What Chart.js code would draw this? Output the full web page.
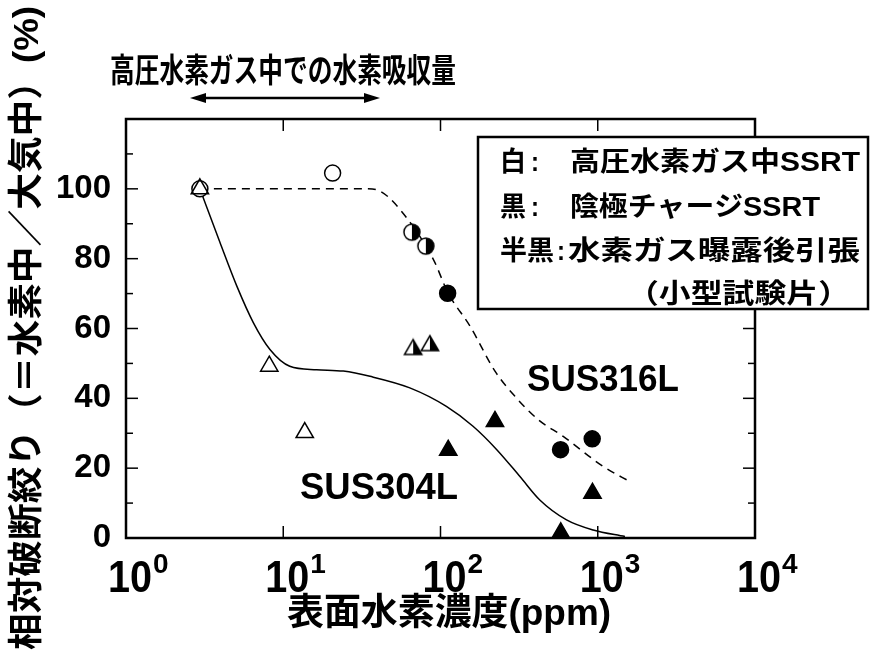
<!DOCTYPE html>
<html>
<head>
<meta charset="utf-8">
<script src="https://cdn.jsdelivr.net/npm/chart.js@4/dist/chart.umd.min.js"></script>
<style>
  html, body { margin: 0; padding: 0; background: #fff; }
  canvas { display: block; }
</style>
</head>
<body>
<canvas id="c" width="877" height="653"></canvas>
<script>
// Relative reduction of area vs. surface hydrogen concentration (SUS316L / SUS304L)

// axis ticks
const yTickValues = [0, 20, 40, 60, 80, 100];
const xDecades = [1, 10, 100, 1000, 10000];
const xExponents = ['0', '1', '2', '3', '4'];

// SUS316L trend curve (dashed)
const sus316Conc  = [2.95, 34, 41, 55, 90, 112, 154, 222, 297, 418, 603, 1082, 1640];
const sus316Ratio = [100, 100, 99.4, 94.2, 79.8, 70.1, 60.7, 47.8, 40.6, 33.9, 29.1, 20.5, 15.9];

// SUS304L trend curve (solid)
const sus304Conc  = [2.95, 3.96, 5.06, 6.45, 8.23, 11.0, 16.3, 24.1, 35.6, 63.8, 109, 161, 228, 320, 428, 633, 935, 1490];
const sus304Ratio = [100, 84.6, 72.2, 61.7, 54.0, 49.2, 48.2, 47.8, 46.3, 43.0, 37.7, 32.0, 25.3, 17.6, 10.9, 5.2, 2.3, 0.4];

// white: SSRT in high-pressure hydrogen gas
const openTriConc   = [2.95, 8.15, 13.7];
const openTriRatio  = [100, 49.2, 30.2];
const openCircConc  = [2.95, 20.6];
const openCircRatio = [100, 104.5];

// half black: tensile test after hydrogen gas exposure
const halfCircConc  = [65.8, 80.7];
const halfCircRatio = [87.6, 83.6];
const halfTriConc   = [67, 85.6];
const halfTriRatio  = [54, 55.1];

// black: cathodic charging SSRT
const fullCircConc  = [111, 580, 922];
const fullCircRatio = [70.1, 25.3, 28.4];
const fullTriConc   = [112, 222, 582, 926];
const fullTriRatio  = [25.1, 33.4, 1.5, 12.8];

const LATIN = '"Liberation Sans", Arial, sans-serif';
const MIXED = '"Liberation Sans", "Noto Sans CJK JP", sans-serif';

function pts(xs, ys) { return xs.map((v, i) => ({ x: v, y: ys[i] })); }

// marker with left half white and right half black
function halfMarker(shape, r) {
  const w = Math.ceil(2 * r + 4);
  const c = document.createElement('canvas');
  c.width = w; c.height = w;
  const g = c.getContext('2d');
  const cx = w / 2, cy = w / 2;
  g.beginPath();
  if (shape === 'circle') {
    g.arc(cx, cy, r, 0, Math.PI * 2);
  } else {
    const h = r * Math.sqrt(3) / 2;
    g.moveTo(cx, cy - r);
    g.lineTo(cx + h, cy + r / 2);
    g.lineTo(cx - h, cy + r / 2);
    g.closePath();
  }
  g.fillStyle = '#fff';
  g.fill();
  g.save();
  g.clip();
  g.fillStyle = '#000';
  g.fillRect(cx, 0, w, w);
  g.restore();
  g.lineWidth = 1.5;
  g.strokeStyle = '#000';
  g.stroke();
  return c;
}

// draws text stretched horizontally to a given width
function fitText(ctx, text, x, y, width, font, align) {
  ctx.font = font;
  const w = ctx.measureText(text).width;
  const sx = width / w;
  ctx.save();
  ctx.translate(x, y);
  ctx.scale(sx, 1);
  ctx.textAlign = 'left';
  ctx.fillText(text, align === 'center' ? -w / 2 : 0, 0);
  ctx.restore();
}

function seg(ctx, x1, y1, x2, y2) {
  ctx.beginPath(); ctx.moveTo(x1, y1); ctx.lineTo(x2, y2); ctx.stroke();
}

const decor = {
  id: 'decor',
  afterDraw(chart) {
    const { ctx, chartArea: a, scales: { x, y } } = chart;
    ctx.save();
    ctx.strokeStyle = '#000';
    ctx.fillStyle = '#000';

    // inward tick marks on all four sides
    ctx.lineWidth = 1.5;
    for (let v = 10; v < 120; v += 10) {
      const py = y.getPixelForValue(v);
      const len = v % 20 === 0 ? 12 : 7;
      seg(ctx, a.left, py, a.left + len, py);
      seg(ctx, a.right, py, a.right - len, py);
    }
    xDecades.slice(1, -1).forEach(v => {
      const px = x.getPixelForValue(v);
      seg(ctx, px, a.bottom, px, a.bottom - 12);
      seg(ctx, px, a.top, px, a.top + 12);
    });

    // frame
    ctx.lineWidth = 2.5;
    ctx.strokeRect(a.left, a.top, a.right - a.left, a.bottom - a.top);

    // x tick labels 10^n
    ctx.textBaseline = 'alphabetic';
    xDecades.forEach((v, i) => {
      const px = x.getPixelForValue(v);
      const baseW = 44;
      fitText(ctx, '10', px + 4 - baseW / 2, 592, baseW, 'bold 44px ' + LATIN);
      ctx.font = 'bold 28px ' + LATIN;
      ctx.textAlign = 'left';
      ctx.fillText(xExponents[i], px + 4 + baseW / 2 + 1, 573);
    });

    // axis titles
    ctx.textBaseline = 'middle';
    fitText(ctx, '表面水素濃度(ppm)', 449, 615, 324, 'bold 37px ' + MIXED, 'center');
    ctx.save();
    ctx.translate(28, 328);
    ctx.rotate(-Math.PI / 2);
    fitText(ctx, '相対破断絞り（＝水素中／大気中）(%)', 0, 0, 644, 'bold 35px ' + MIXED, 'center');
    ctx.restore();

    // range of hydrogen uptake in high-pressure gas
    fitText(ctx, '高圧水素ガス中での水素吸収量', 110, 73, 346, 'bold 33px ' + MIXED);
    const ay = 98, ax1 = 190, ax2 = 380, hl = 16, hw = 5;
    ctx.lineWidth = 2.5;
    seg(ctx, ax1 + hl - 2, ay, ax2 - hl + 2, ay);
    ctx.beginPath();
    ctx.moveTo(ax1, ay); ctx.lineTo(ax1 + hl, ay - hw); ctx.lineTo(ax1 + hl, ay + hw); ctx.closePath();
    ctx.fill();
    ctx.beginPath();
    ctx.moveTo(ax2, ay); ctx.lineTo(ax2 - hl, ay - hw); ctx.lineTo(ax2 - hl, ay + hw); ctx.closePath();
    ctx.fill();

    // series labels
    ctx.textBaseline = 'alphabetic';
    fitText(ctx, 'SUS316L', 527, 391, 152, 'bold 36px ' + LATIN);
    fitText(ctx, 'SUS304L', 300, 499, 158, 'bold 36px ' + LATIN);

    // key box
    ctx.fillStyle = '#fff';
    ctx.fillRect(478, 137, 390, 172);
    ctx.lineWidth = 2.5;
    ctx.strokeRect(478, 137, 390, 172);
    ctx.fillStyle = '#000';
    ctx.textBaseline = 'middle';
    const kf = 'bold 27px ' + MIXED;
    fitText(ctx, '白', 500, 164, 26, kf);
    fitText(ctx, ':', 531, 164, 8, kf);
    fitText(ctx, '高圧水素ガス中SSRT', 570, 164, 290, kf);
    fitText(ctx, '黒', 500, 209, 26, kf);
    fitText(ctx, ':', 531, 209, 8, kf);
    fitText(ctx, '陰極チャージSSRT', 570, 209, 250, kf);
    fitText(ctx, '半黒', 500, 253, 54, kf);
    fitText(ctx, ':', 557, 253, 8, kf);
    fitText(ctx, '水素ガス曝露後引張', 568, 253, 292, kf);
    fitText(ctx, '（小型試験片）', 627, 296, 223, kf);

    ctx.restore();
  }
};

const marker = (data, style, fill, radius) => ({
  data, showLine: false, order: 0,
  pointStyle: style, pointRadius: radius, pointHoverRadius: radius,
  pointBackgroundColor: fill, pointBorderColor: '#000', pointBorderWidth: 1.5
});

new Chart(document.getElementById('c'), {
  type: 'scatter',
  data: {
    datasets: [
      marker(pts(openTriConc, openTriRatio), 'triangle', 'rgba(255,255,255,0)', 10),
      marker(pts(openCircConc, openCircRatio), 'circle', '#fff', 8),
      marker(pts(halfCircConc, halfCircRatio), halfMarker('circle', 8), '#fff', 8),
      marker(pts(halfTriConc, halfTriRatio), halfMarker('triangle', 10), '#fff', 10),
      marker(pts(fullCircConc, fullCircRatio), 'circle', '#000', 8),
      marker(pts(fullTriConc, fullTriRatio), 'triangle', '#000', 10),
      {
        data: pts(sus316Conc, sus316Ratio), showLine: true, order: 1,
        borderColor: '#000', borderWidth: 1.5, borderDash: [8, 6],
        pointRadius: 0, cubicInterpolationMode: 'monotone'
      },
      {
        data: pts(sus304Conc, sus304Ratio), showLine: true, order: 1,
        borderColor: '#000', borderWidth: 1.5,
        pointRadius: 0, cubicInterpolationMode: 'monotone'
      }
    ]
  },
  options: {
    responsive: false,
    animation: false,
    devicePixelRatio: 1,
    layout: { padding: { left: 0, top: 119, right: 122, bottom: 0 } },
    plugins: { legend: { display: false }, tooltip: { enabled: false } },
    scales: {
      x: {
        type: 'logarithmic', min: 1, max: 10000,
        grid: { display: false }, border: { display: false },
        ticks: { display: false },
        afterFit: s => { s.height = 115; }
      },
      y: {
        min: 0, max: 120,
        grid: { display: false, drawTicks: false }, border: { display: false },
        ticks: {
          stepSize: 20, padding: 15, color: '#000',
          font: { family: LATIN, weight: 'bold', size: 33 },
          callback: v => yTickValues.includes(v) ? v : ''
        },
        afterFit: s => { s.width = 126; }
      }
    }
  },
  plugins: [decor]
});
</script>
</body>
</html>
